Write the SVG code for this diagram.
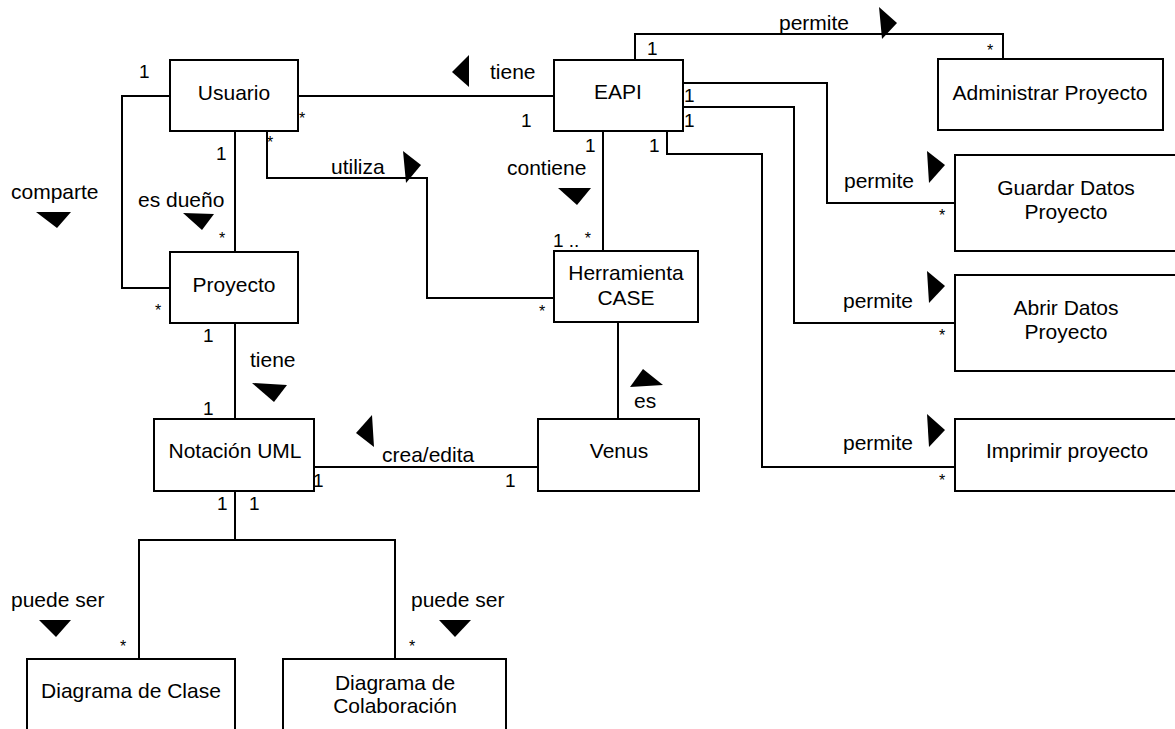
<svg xmlns="http://www.w3.org/2000/svg" width="1175" height="729" viewBox="0 0 1175 729">
<style>
.box{fill:#fff;stroke:#000;stroke-width:2}
.c{fill:none;stroke:#000;stroke-width:2}
.t{font-family:"Liberation Sans",Arial,sans-serif;font-size:21px;fill:#000}
.n{font-family:"Liberation Sans",Arial,sans-serif;font-size:21px;fill:#000;text-anchor:middle}
.m{font-family:"Liberation Sans",Arial,sans-serif;font-size:19px;fill:#000}
.s{font-family:"Liberation Sans",Arial,sans-serif;font-size:16px;fill:#000;text-anchor:middle}
.tri{fill:#000}
</style>
<rect width="1175" height="729" fill="#fff"/>
<g id="connectors">
<polyline class="c" points="170,96 122,96 122,288 170,288"/>
<line class="c" x1="235" y1="131" x2="235" y2="252"/>
<line class="c" x1="298" y1="96" x2="554" y2="96"/>
<polyline class="c" points="267,131 267,178 427,178 427,298 554,298"/>
<line class="c" x1="603" y1="131" x2="603" y2="251"/>
<polyline class="c" points="635,60 635,34 1003,34 1003,59"/>
<polyline class="c" points="683,83 827,83 827,203 955,203"/>
<polyline class="c" points="683,107 794,107 794,323 955,323"/>
<polyline class="c" points="667,131 667,154 762,154 762,467 955,467"/>
<line class="c" x1="235" y1="323" x2="235" y2="419"/>
<line class="c" x1="618" y1="322" x2="618" y2="419"/>
<line class="c" x1="314" y1="467" x2="538" y2="467"/>
<polyline class="c" points="235,491 235,540"/>
<polyline class="c" points="139,659 139,540 395,540 395,659"/>
<!-- association labels and direction triangles -->
<text class="t" x="11" y="199">comparte</text>
<polygon class="tri" points="36,212 71,212 57,228"/>
<text class="t" x="138" y="207">es dueño</text>
<polygon class="tri" points="183,213 214,214 202,230"/>
<text class="t" x="490" y="79">tiene</text>
<polygon class="tri" points="469,55 452,72 469,87"/>
<text class="t" x="331" y="174">utiliza</text>
<polygon class="tri" points="403,151 421,165 406,183"/>
<text class="t" x="507" y="175">contiene</text>
<polygon class="tri" points="558,188 591,188 577,205"/>
<text class="t" x="779" y="30">permite</text>
<polygon class="tri" points="879,7 897,23 882,39"/>
<text class="t" x="844" y="188">permite</text>
<polygon class="tri" points="927,151 945,165 929,183"/>
<text class="t" x="843" y="308">permite</text>
<polygon class="tri" points="927,271 945,286 929,303"/>
<text class="t" x="843" y="450">permite</text>
<polygon class="tri" points="927,414 945,430 929,447"/>
<text class="t" x="250" y="367">tiene</text>
<polygon class="tri" points="252,383 287,385 274,402"/>
<text class="t" x="634" y="408">es</text>
<polygon class="tri" points="630,387 643,369 663,385"/>
<text class="t" x="382" y="462">crea/edita</text>
<polygon class="tri" points="372,415 356,433 374,447"/>
<text class="t" x="11" y="607">puede ser</text>
<polygon class="tri" points="39,620 71,620 56,637"/>
<text class="t" x="411" y="607">puede ser</text>
<polygon class="tri" points="439,620 471,620 455,637"/>
<!-- multiplicities -->
<text class="m" x="139" y="78">1</text>
<text class="m" x="216" y="160">1</text>
<text class="m" x="521" y="127">1</text>
<text class="m" x="647" y="55">1</text>
<text class="m" x="684" y="102">1</text>
<text class="m" x="684" y="127">1</text>
<text class="m" x="649" y="152">1</text>
<text class="m" x="585" y="152">1</text>
<text class="m" x="553" y="247">1 .. <tspan font-size="16px" dy="-3">*</tspan></text>
<text class="m" x="203" y="342">1</text>
<text class="m" x="203" y="415">1</text>
<text class="m" x="313" y="487">1</text>
<text class="m" x="505" y="487">1</text>
<text class="m" x="217" y="510">1</text>
<text class="m" x="249" y="510">1</text>
<text class="s" x="302" y="124">*</text>
<text class="s" x="270" y="148">*</text>
<text class="s" x="158" y="316">*</text>
<text class="s" x="222" y="244">*</text>
<text class="s" x="542" y="317">*</text>
<text class="s" x="990" y="56">*</text>
<text class="s" x="942" y="221">*</text>
<text class="s" x="942" y="341">*</text>
<text class="s" x="942" y="486">*</text>
<text class="s" x="123" y="652">*</text>
<text class="s" x="412" y="652">*</text>
</g>
<g id="usuario"><rect class="box" x="170" y="60" width="128" height="71"/><text class="n" x="234" y="100">Usuario</text></g>
<g id="eapi"><rect class="box" x="554" y="60" width="129" height="71"/><text class="n" x="618" y="99">EAPI</text></g>
<g id="administrar"><rect class="box" x="938" y="59" width="225" height="71"/><text class="n" x="1050" y="100">Administrar Proyecto</text></g>
<g id="guardar"><rect class="box" x="955" y="155" width="224" height="96"/><text class="n" x="1066" y="195">Guardar Datos</text><text class="n" x="1066" y="219">Proyecto</text></g>
<g id="abrir"><rect class="box" x="955" y="275" width="224" height="96"/><text class="n" x="1066" y="315">Abrir Datos</text><text class="n" x="1066" y="339">Proyecto</text></g>
<g id="imprimir"><rect class="box" x="955" y="419" width="224" height="72"/><text class="n" x="1067" y="458">Imprimir proyecto</text></g>
<g id="proyecto"><rect class="box" x="170" y="252" width="128" height="71"/><text class="n" x="234" y="292">Proyecto</text></g>
<g id="herramienta"><rect class="box" x="554" y="251" width="144" height="71"/><text class="n" x="626" y="280">Herramienta</text><text class="n" x="626" y="305">CASE</text></g>
<g id="notacion"><rect class="box" x="154" y="419" width="160" height="72"/><text class="n" x="235" y="458">Notación UML</text></g>
<g id="venus"><rect class="box" x="538" y="419" width="161" height="72"/><text class="n" x="619" y="458">Venus</text></g>
<g id="diagrama-clase"><rect class="box" x="27" y="659" width="208" height="90"/><text class="n" x="131" y="698">Diagrama de Clase</text></g>
<g id="diagrama-colaboracion"><rect class="box" x="283" y="659" width="223" height="90"/><text class="n" x="395" y="690">Diagrama de</text><text class="n" x="395" y="713">Colaboración</text></g>
</svg>
